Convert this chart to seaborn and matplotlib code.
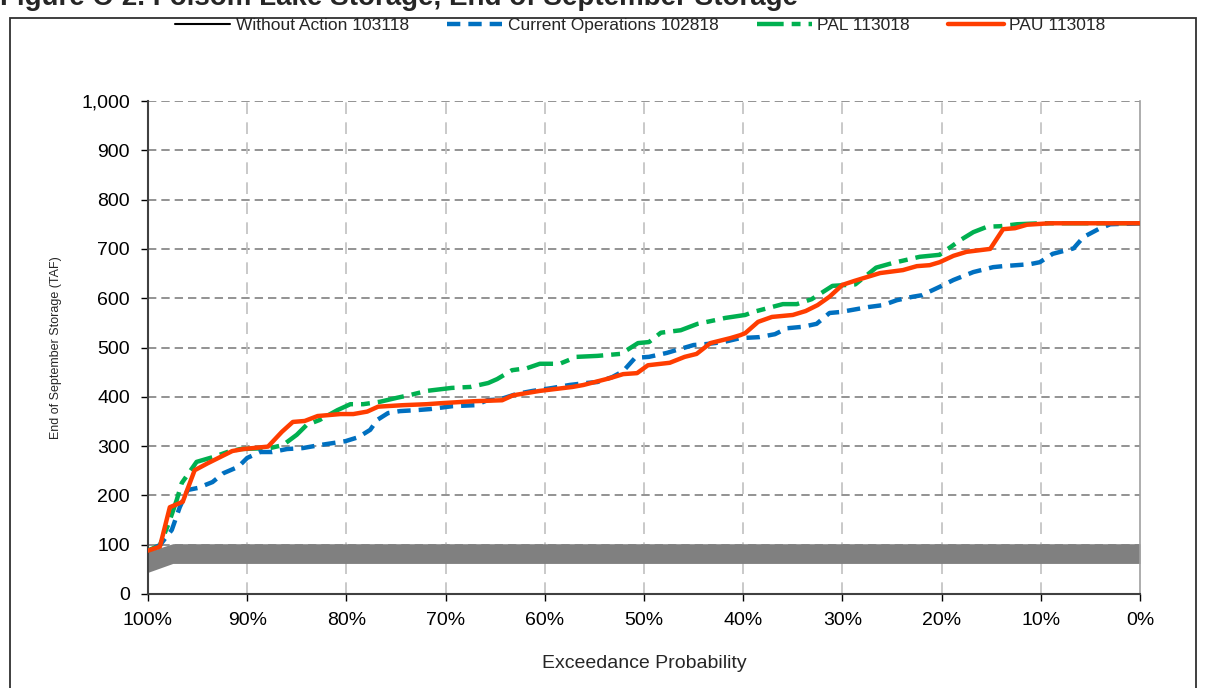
import seaborn as sns
import pandas as pd
import matplotlib.pyplot as plt
import numpy as np
from matplotlib.lines import Line2D
from matplotlib.patches import Rectangle

#-----------------------------------------------------------------------------------------------------------------------
"""Data read off the figure (exceedance %, storage TAF)"""
pau_x = [100, 98.8, 97.8, 96.5, 95.3, 94, 92.7, 91.5, 90.4, 87.9, 86.5, 85.4, 84.2, 82.9, 80.6, 79.3, 77.9, 76.8,
         74.3, 71.9, 70.5, 67.2, 64.3, 63.2, 60.5, 57.2, 56.1, 53.4, 52.1, 50.7, 49.6, 47.4, 45.9, 44.7, 43.3, 41.3,
         40.3, 39.8, 38.5, 37.1, 35, 33.7, 32.5, 31.3, 30, 28.8, 27.5, 26.2, 23.9, 22.5, 21.2, 20.2, 18.8, 17.5,
         15.1, 13.8, 12.6, 11.4, 9.1, 0]
pau_y = [88, 96, 176, 187, 251, 265, 278, 290, 294, 299, 329, 349, 351, 361, 365, 365, 370, 380,
         383, 385, 387, 391, 393, 403, 412, 420, 424, 438, 446, 448, 464, 469, 481, 487, 509, 519,
         525, 529, 552, 562, 566, 574, 586, 603, 627, 635, 643, 651, 657, 665, 667, 673, 686, 694,
         700, 740, 742, 749, 752, 752]

pal_x = [100, 98.8, 97.9, 97.1, 96.6, 95.1, 93.4, 92, 90.7, 87.7, 86.4, 85, 84, 82.7, 80.9, 79.6, 78.3, 76.6,
         74.9, 73.5, 71.9, 69.4, 67.5, 65.7, 64.8, 63.3, 61.8, 60.5, 58.5, 56.8, 54.7, 52.4, 51.7, 50.6, 49.5,
         48.3, 46.3, 44.6, 43.4, 41.8, 39.8, 39, 37.5, 36, 34.6, 33.1, 31, 28.7, 26.6, 25, 22.2, 20.2, 18.1,
         16.8, 15.4, 14.1, 12.4, 10, 0]
pal_y = [88, 99, 144, 191, 225, 268, 278, 288, 294, 296, 302, 323, 343, 353, 373, 385, 385, 390,
         398, 404, 412, 418, 420, 428, 436, 454, 458, 467, 467, 481, 483, 487, 495, 509, 511,
         530, 535, 548, 553, 560, 566, 572, 580, 588, 588, 598, 625, 628, 662, 671, 684, 688, 718,
         734, 745, 746, 750, 752, 752]

cur_x = [100, 98.8, 97.6, 96.8, 96, 95, 93.5, 92.4, 90.9, 90, 88.7, 87.5, 86, 84.4, 82.7, 80.1, 78.8, 77.6,
         76.9, 75.8, 74.6, 72.9, 71.6, 69.3, 67, 65.8, 64.5, 62.8, 61.2, 59.2, 57.5, 55.8, 54.7, 53.2, 52.1,
         50.9, 49.5, 47.7, 46.7, 45, 43.7, 42, 40.3, 38.4, 36.8, 35.6, 34, 32.6, 31.3, 30.2, 27.4, 25.9, 24.5,
         22.9, 22, 20.2, 18.8, 16.8, 14.8, 13.8, 11.1, 10.1, 8.8, 6.7, 5.7, 4.2, 3, 0]
cur_y = [88, 99, 130, 176, 211, 215, 227, 245, 258, 276, 288, 288, 294, 296, 302, 310, 318, 333,
         353, 367, 371, 373, 375, 381, 383, 393, 395, 406, 412, 418, 424, 428, 430, 440, 452,
         479, 481, 489, 495, 505, 507, 511, 519, 521, 527, 539, 542, 548, 570, 572, 582, 586, 596,
         603, 606, 623, 637, 653, 663, 665, 669, 673, 690, 701, 724, 740, 750, 752]

# Without Action sits under the grey band
wa_x = [100, 97.5, 0]
wa_y = [65, 83, 83]

# Grey band near the bottom
band_x = [100, 97.5, 0]
band_lo = [44, 62, 62]
band_hi = [86, 102, 102]

labels = ['Without Action 103118', 'Current Operations 102818', 'PAL 113018', 'PAU 113018']
colors = ['black', '#0070C0', '#00B050', '#FF3D00']

#-----------------------------------------------------------------------------------------------------------------------
"""Creating the Figure"""
sns.set_style('white')
plt.rcParams['font.family'] = ['Liberation Sans', 'DejaVu Sans']

fig = plt.figure(figsize=(12.06, 6.88), dpi=100)
ax = fig.add_axes([148/1206, 1-594/688, (1140-148)/1206, (594-101)/688])

blue_dash = (3, 1.8)
green_dash = (6, 1.8, 2, 1.8)

#-----------------------------------------------------------------------------------------------------------------------
"""Plotting"""
ax.fill_between(band_x, band_lo, band_hi, color='#808080', lw=0, zorder=2)

sns.lineplot(x=wa_x, y=wa_y, ax=ax, color=colors[0], lw=1.5, estimator=None, zorder=1)
sns.lineplot(x=cur_x, y=cur_y, ax=ax, color=colors[1], lw=3.2, estimator=None, zorder=4)
ax.lines[-1].set_dashes(blue_dash)
sns.lineplot(x=pal_x, y=pal_y, ax=ax, color=colors[2], lw=3.2, estimator=None, zorder=3)
ax.lines[-1].set_dashes(green_dash)
sns.lineplot(x=pau_x, y=pau_y, ax=ax, color=colors[3], lw=3.2, estimator=None, zorder=5)

#-----------------------------------------------------------------------------------------------------------------------
"""Axes and grid"""
ax.set_xlim(100, 0)
ax.set_ylim(0, 1000)
ax.set_xticks(np.arange(100, -1, -10))
ax.set_xticklabels([f'{int(v)}%' for v in np.arange(100, -1, -10)])
ax.set_yticks(np.arange(0, 1001, 100))
ax.set_yticklabels([f'{int(v):,}' for v in np.arange(0, 1001, 100)])
ax.tick_params(axis='both', labelsize=14, colors='black', direction='out', length=5, width=1)
ax.tick_params(axis='x', pad=8, bottom=True)
ax.tick_params(axis='y', pad=8, left=True)

for y in np.arange(100, 1001, 100):
    ax.axhline(y, color='#808080', lw=1.2, ls=(0, (5, 3)), zorder=0)
for x in np.arange(90, 0, -10):
    ax.axvline(x, color='#C0C0C0', lw=1.2, ls=(0, (7, 5)), zorder=0)

ax.spines['top'].set_visible(False)
ax.spines['right'].set_color('#A0A0A0')
ax.spines['right'].set_linewidth(1.2)
ax.spines['left'].set_color('#404040')
ax.spines['left'].set_linewidth(1.5)
ax.spines['bottom'].set_color('#404040')
ax.spines['bottom'].set_linewidth(1.5)

ax.set_xlabel('Exceedance Probability', fontsize=14, labelpad=19)
ax.set_ylabel('End of September Storage (TAF)', fontsize=9, labelpad=14)

#-----------------------------------------------------------------------------------------------------------------------
"""Legend"""
handles = [Line2D([0], [0], color=colors[0], lw=1.5),
           Line2D([0], [0], color=colors[1], lw=3.2, dashes=blue_dash),
           Line2D([0], [0], color=colors[2], lw=3.2, dashes=green_dash),
           Line2D([0], [0], color=colors[3], lw=3.2)]
fig.legend(handles, labels, loc='center', bbox_to_anchor=(640/1206, 1-25/688), ncol=4, frameon=False,
           fontsize=12.5, handlelength=3.2, handletextpad=0.3, columnspacing=2.2)

#-----------------------------------------------------------------------------------------------------------------------
"""Frame and clipped title"""
fig.patches.append(Rectangle((10/1206, -0.05), 1186/1206, 1.05-18/688, transform=fig.transFigure,
                             fill=False, ec='#303030', lw=1.3))
fig.text(0, 1-5/688, 'Figure C-2. Folsom Lake Storage, End of September Storage', fontsize=20,
         fontweight='bold', va='baseline', ha='left')

fig.savefig('out.png', dpi=100)
